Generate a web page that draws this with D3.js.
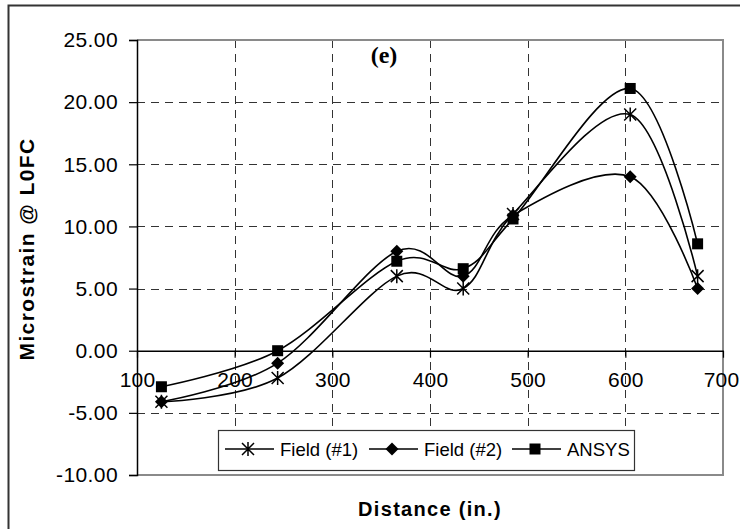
<!DOCTYPE html>
<html>
<head>
<meta charset="utf-8">
<script src="https://cdn.jsdelivr.net/npm/d3@7"></script>
<style>
  html, body { margin: 0; padding: 0; background: #fff; }
  svg { display: block; }
</style>
</head>
<body>
<svg id="chart" width="740" height="529"></svg>
<script>
// Strain readings along the girder (distance in inches)
const distance = [125, 244, 366, 434, 485, 605, 674];
const field1   = [-4.1, -2.2, 6.0, 5.0, 11.0, 19.0, 6.0];
const field2   = [-4.1, -1.0, 8.0, 6.0, 10.9, 14.0, 5.0];
const ansys    = [-2.9, 0.0, 7.2, 6.6, 10.6, 21.1, 8.6];

const seriesNames = ["Field (#1)", "Field (#2)", "ANSYS"];
const seriesMarkers = ["star", "diamond", "square"];
const xTicks = [100, 200, 300, 400, 500, 600, 700];
const yTicks = [-10, -5, 0, 5, 10, 15, 20, 25];

const svg = d3.select("#chart");
const plot = { left: 137, right: 723, top: 40, bottom: 475 };

const x = d3.scaleLinear().domain([100, 700]).range([plot.left, plot.right]);
const y = d3.scaleLinear().domain([-10, 25]).range([plot.bottom, plot.top]);

// outer chart frame
svg.append("rect")
  .attr("x", 8.5).attr("y", 5.5)
  .attr("width", 740).attr("height", 530)
  .attr("fill", "#fff").attr("stroke", "#333").attr("stroke-width", 2);

// dashed grid
const grid = svg.append("g").attr("stroke", "#333").attr("stroke-width", 1)
  .attr("stroke-dasharray", "8,6").attr("fill", "none");
grid.selectAll("line.h").data(yTicks.filter(v => v !== 0 && v !== 25 && v !== -10))
  .join("line")
  .attr("x1", plot.left).attr("x2", plot.right)
  .attr("y1", d => Math.round(y(d)) + 0.5).attr("y2", d => Math.round(y(d)) + 0.5);
grid.selectAll("line.v").data(xTicks.filter(v => v !== 100 && v !== 700))
  .join("line")
  .attr("y1", plot.top).attr("y2", plot.bottom)
  .attr("x1", d => Math.round(x(d)) + 0.5).attr("x2", d => Math.round(x(d)) + 0.5);

// plot-area border (top, right, bottom)
svg.append("path")
  .attr("d", `M${plot.left},${plot.top}H${plot.right}V${plot.bottom}H${plot.left}`)
  .attr("fill", "none").attr("stroke", "#8a8a8a").attr("stroke-width", 2);

// y axis
const yAxis = d3.axisLeft(y).tickValues(yTicks).tickSize(8).tickPadding(11)
  .tickFormat(d => d.toFixed(2));
const gy = svg.append("g").attr("transform", `translate(${plot.left},0)`).call(yAxis);
gy.select(".domain").attr("stroke", "#000").attr("stroke-width", 1.5);
gy.selectAll(".tick line").attr("stroke", "#000").attr("stroke-width", 1.2);
gy.selectAll(".tick text")
  .attr("font-family", "Liberation Sans, Arial, sans-serif")
  .attr("font-size", 21).attr("letter-spacing", 0.4).attr("fill", "#000");

// x axis along zero
const xAxis = d3.axisBottom(x).tickValues(xTicks).tickSize(7).tickPadding(14)
  .tickSizeOuter(0).tickFormat(d3.format("d"));
const gx = svg.append("g").attr("transform", `translate(0,${y(0)})`).call(xAxis);
gx.select(".domain").attr("stroke", "#000").attr("stroke-width", 1.5);
gx.selectAll(".tick line").attr("stroke", "#000").attr("stroke-width", 1.2);
gx.selectAll(".tick text")
  .attr("font-family", "Liberation Sans, Arial, sans-serif")
  .attr("font-size", 21).attr("letter-spacing", 0.2).attr("fill", "#000")
  .attr("dx", d => d === 700 ? -2 : 0);

// axis titles
svg.append("text")
  .attr("x", 430).attr("y", 516).attr("text-anchor", "middle")
  .attr("font-family", "Liberation Sans, Arial, sans-serif")
  .attr("font-weight", "bold").attr("font-size", 20).attr("letter-spacing", 1.3)
  .text("Distance (in.)");
svg.append("text")
  .attr("transform", "translate(34,249) rotate(-90)").attr("text-anchor", "middle")
  .attr("font-family", "Liberation Sans, Arial, sans-serif")
  .attr("font-weight", "bold").attr("font-size", 21).attr("letter-spacing", 1.4)
  .text("Microstrain @ L0FC");

// panel tag
svg.append("text")
  .attr("x", 384).attr("y", 63).attr("text-anchor", "middle")
  .attr("font-family", "Liberation Serif, Times New Roman, serif")
  .attr("font-weight", "bold").attr("font-size", 24)
  .text("(e)");

// marker drawing
function drawMarker(g, type, cx, cy) {
  if (type === "square") {
    g.append("rect").attr("x", cx - 5.5).attr("y", cy - 5.5)
      .attr("width", 11).attr("height", 11).attr("fill", "#000");
  } else if (type === "diamond") {
    g.append("path")
      .attr("d", `M${cx},${cy - 6.5}L${cx + 6.5},${cy}L${cx},${cy + 6.5}L${cx - 6.5},${cy}Z`)
      .attr("fill", "#000");
  } else {
    const r = 6;
    g.append("path")
      .attr("d", `M${cx - r},${cy - r}L${cx + r},${cy + r}M${cx - r},${cy + r}L${cx + r},${cy - r}M${cx},${cy - r - 1}L${cx},${cy + r + 1}`)
      .attr("stroke", "#000").attr("stroke-width", 1.5).attr("fill", "none");
  }
}

const seriesValues = [field1, field2, ansys];
const line = d3.line().x(d => x(d[0])).y(d => y(d[1])).curve(d3.curveCardinal.tension(0));

const plotG = svg.append("g");
seriesValues.forEach((vals) => {
  const pts = distance.map((d, j) => [d, vals[j]]);
  plotG.append("path").attr("d", line(pts))
    .attr("fill", "none").attr("stroke", "#000").attr("stroke-width", 1.6);
});
seriesValues.forEach((vals, i) => {
  distance.forEach((d, j) => drawMarker(plotG, seriesMarkers[i], x(d), y(vals[j])));
});

// legend
const lg = svg.append("g");
lg.append("rect").attr("x", 218.5).attr("y", 430.5).attr("width", 416).attr("height", 40)
  .attr("fill", "#fff").attr("stroke", "#333").attr("stroke-width", 1.2);
const legendX = [225, 369, 512];
seriesNames.forEach((name, i) => {
  const lx = legendX[i], ly = 449;
  lg.append("line").attr("x1", lx).attr("x2", lx + 49).attr("y1", ly).attr("y2", ly)
    .attr("stroke", "#000").attr("stroke-width", 1.6);
  drawMarker(lg, seriesMarkers[i], lx + 23, ly);
  lg.append("text").attr("x", lx + 55).attr("y", ly + 7)
    .attr("font-family", "Liberation Sans, Arial, sans-serif")
    .attr("font-size", 18.5).text(name);
});
</script>
</body>
</html>
